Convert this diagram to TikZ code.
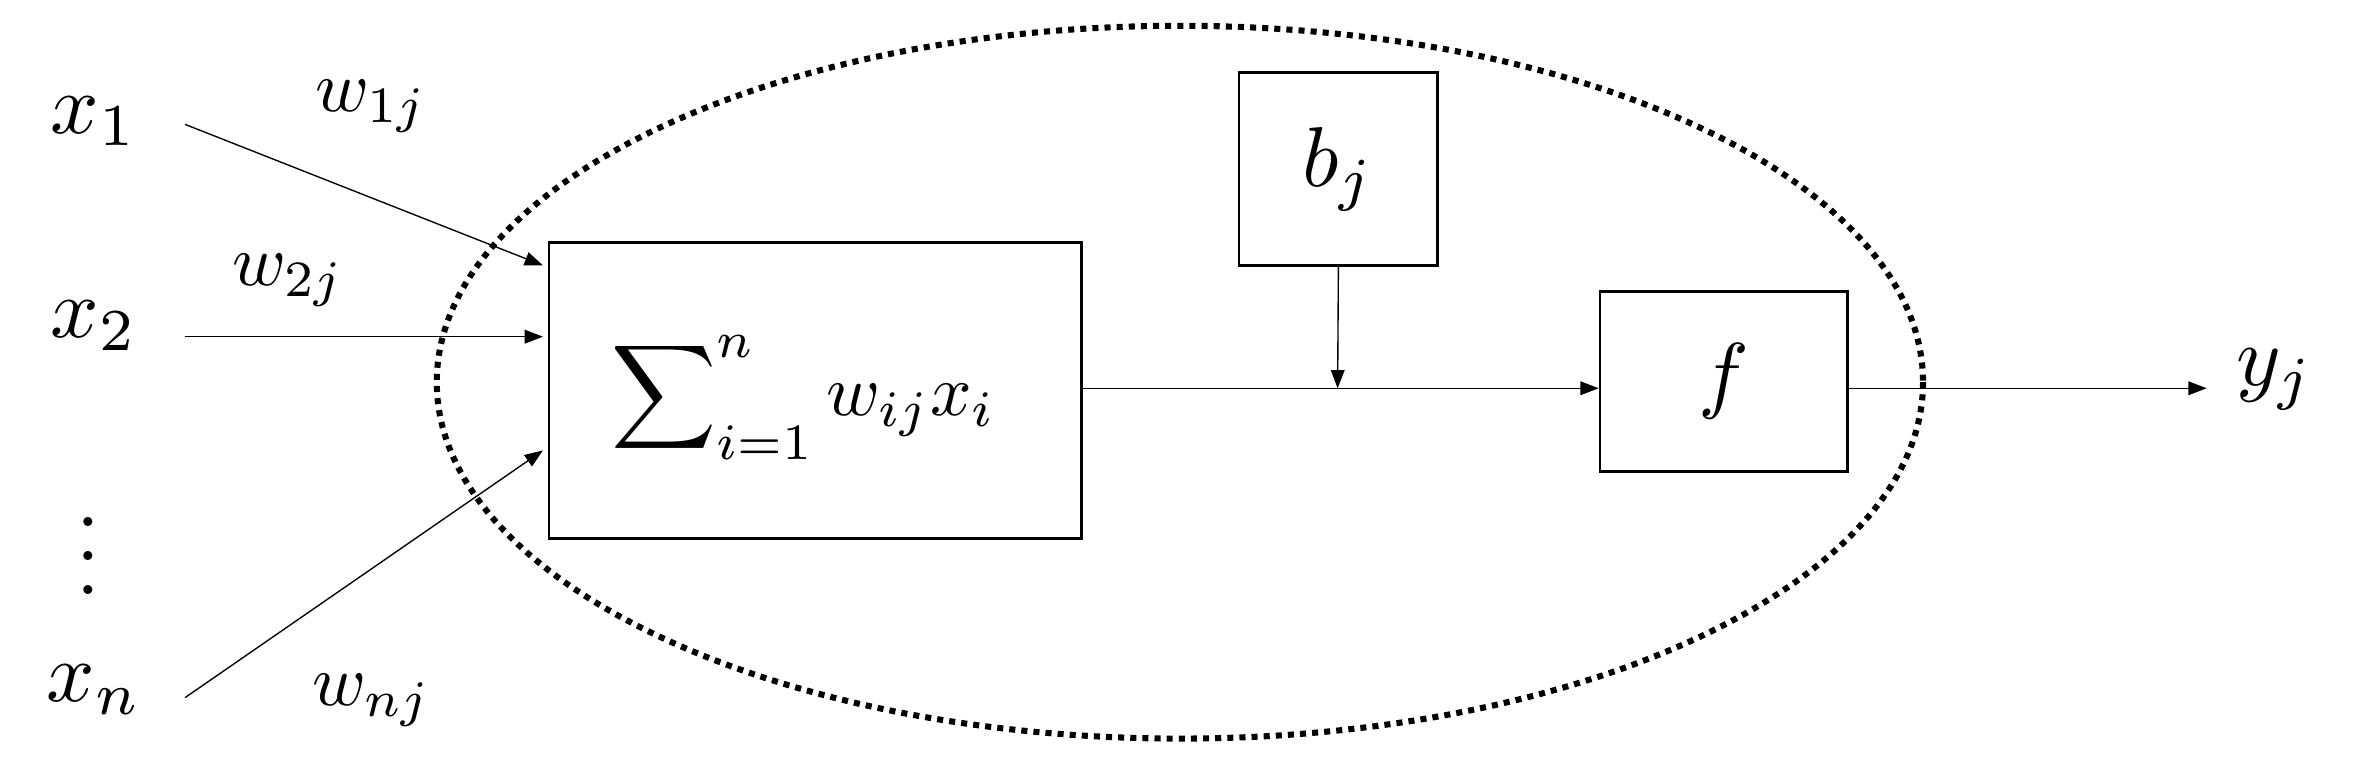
\documentclass[tikz,border=0pt]{standalone}
\usetikzlibrary{arrows.meta}
\begin{document}
\begin{tikzpicture}[x=1pt,y=-1pt,
  lbl/.style={scale=4.8},
  big/.style={scale=5.6},
  box/.style={draw,line width=1.8pt,inner sep=0pt},
  arr/.style={line width=0.9pt,-{Triangle[length=12pt,width=9pt]}}]
\useasboundingbox (0,0) rectangle (1568,515);
\draw[line width=4pt,dash pattern=on 4pt off 4pt] (778,252) ellipse [x radius=490,y radius=235];
\node[big] (x1) at (62,80) {$x_1$};
\node[big] (x2) at (62,215) {$x_2$};
\node[big,inner sep=0pt] at (58,350) {$\vdots$};
\node[big] (xn) at (62,455) {$x_n$};
\node[lbl] at (245,70) {$w_{1j}$};
\node[lbl] at (190,185) {$w_{2j}$};
\node[lbl] at (245,462) {$w_{nj}$};
\node[box,minimum width=351pt,minimum height=195pt] (s) at (537.5,257.5) {};
\node[lbl] at (530,262) {$\displaystyle\sum\nolimits_{i=1}^{n} w_{ij}x_i$};
\node[box,minimum width=131pt,minimum height=127pt] (b) at (882.5,111.5) {};
\node[big] at (b) {$b_j$};
\node[box,minimum width=163pt,minimum height=119pt] (f) at (1136.5,251.5) {};
\node[big] at (f) {$f$};
\node[big] (y) at (1500,250) {$y_j$};
\coordinate (j) at (882,256);
\draw[arr] (122,82) -- (358,175);
\draw[arr] (122,222) -- (358,222);
\draw[arr] (122,460) -- (358,297);
\draw[arr] (b.south) -- (j);
\draw[arr] (s.east |- j) -- (f.west |- j);
\draw[arr] (f.east |- j) -- (1455,256);
\end{tikzpicture}
\end{document}
